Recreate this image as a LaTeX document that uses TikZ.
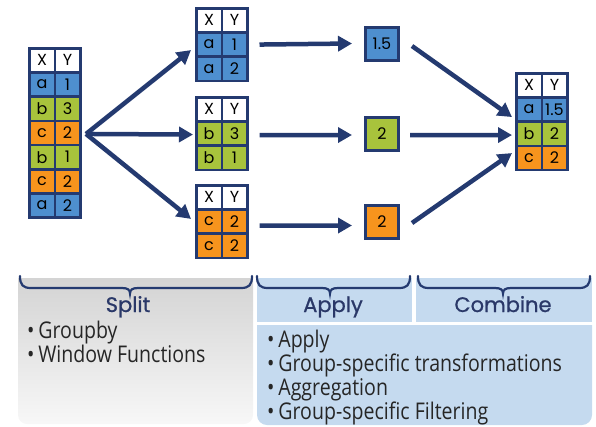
\documentclass[tikz,border=0pt]{standalone}
\usepackage{fontspec}
\setmainfont{Open Sans}[FakeStretch=0.85]
\newfontfamily\geo{Poppins}
\newfontfamily\geoh{Poppins}[FakeBold=0.8]
\usetikzlibrary{arrows.meta,calc}

\definecolor{navy}{HTML}{243A70}
\definecolor{hnavy}{HTML}{2A3868}
\definecolor{cblue}{HTML}{4E8FCF}
\definecolor{cgreen}{HTML}{A8C33C}
\definecolor{corange}{HTML}{F7941D}
\definecolor{pblue}{HTML}{C5DAEF}
\definecolor{txt}{HTML}{262626}

\tikzset{
  tblbox/.style={fill=navy, inner sep=0pt, outer sep=0pt, anchor=north west, minimum width=53.5pt},
  cell/.style={inner sep=0pt, outer sep=0pt, minimum width=23pt, minimum height=21.7pt,
    font=\geo\fontsize{16}{16}\selectfont, text=black},
  agg/.style={draw=navy, line width=3pt, minimum size=33pt, inner sep=0pt,
    font=\geo\fontsize{16}{16}\selectfont, text=black},
  arr/.style={draw=navy, line width=4.5pt, -{Triangle[length=14pt,width=15pt]}},
  brc/.style={draw=navy, line width=2.2pt, line cap=round},
  hdr/.style={font=\geoh\fontsize{21}{21}\selectfont, text=hnavy, inner sep=0pt, anchor=base},
  lst/.style={font=\fontsize{23}{24}\selectfont, text=txt, inner sep=0pt, anchor=base west},
}

% table: name, x, y (top-left), number of data rows, rows letter/value/colour
\newcommand\mktable[5]{%
  \node[tblbox, minimum height={(2.5+(#4+1)*24.2)*1pt}] (#1) at (#2,#3) {};
  \node[cell, fill=white] (#1-0-x) at ({#2+14},{#3+13.35}) {X};
  \node[cell, fill=white] (#1-0-y) at ({#2+39.5},{#3+13.35}) {Y};
  \foreach \l/\v/\c [count=\i] in {#5} {
    \node[cell, fill=\c] (#1-\i-x) at ({#2+14},{#3+13.35+\i*24.2}) {\l};
    \node[cell, fill=\c] (#1-\i-y) at ({#2+39.5},{#3+13.35+\i*24.2}) {\v};
  }%
}

% brace: x-left, x-tip, x-right
\newcommand\mkbrace[3]{%
  \draw[brc] (#1,276) .. controls (#1,285) and (#1+3,288) .. (#1+11,288)
    -- (#2-8,288) .. controls (#2-2,288) and (#2,290) .. (#2,293.5)
    .. controls (#2,290) and (#2+2,288) .. (#2+8,288)
    -- (#3-11,288) .. controls (#3-3,288) and (#3,285) .. (#3,276);%
}

\begin{document}
\begin{tikzpicture}[x=1pt, y=-1pt]
\useasboundingbox (0,0) rectangle (596,426);

% ---- tables ----
\mktable{T0}{28}{47}{6}{a/1/cblue, b/3/cgreen, c/2/corange, b/1/cgreen, c/2/corange, a/2/cblue}
\mktable{T1}{195}{7}{2}{a/1/cblue, a/2/cblue}
\mktable{T2}{195}{96}{2}{b/3/cgreen, b/1/cgreen}
\mktable{T3}{195}{184}{2}{c/2/corange, c/2/corange}
\mktable{R}{515}{72}{3}{a/1.5/cblue, b/2/cgreen, c/2/corange}

% ---- aggregated values ----
\node[agg, fill=cblue]   (B1) at (382,43.5)  {1.5};
\node[agg, fill=cgreen]  (B2) at (382,133.5) {2};
\node[agg, fill=corange] (B3) at (382,221.5) {2};

% ---- split arrows ----
\coordinate (s) at ($(T0.east)+(4.5,1)$);
\draw[arr] (s) -- ($(T1.west)+(-4,5.5)$);
\draw[arr] (s) -- ($(T2.west)+(-2,1)$);
\draw[arr] (s) -- ($(T3.west)+(-4,-2.6)$);

% ---- apply arrows ----
\draw[arr] ($(T1.east)+(11,0)$) -- ($(B1.west)+(-12,0)$);
\draw[arr] ($(T2.east)+(11,1.5)$) -- ($(B2.west)+(-12,1.5)$);
\draw[arr] ($(T3.east)+(11,4)$) -- ($(B3.west)+(-12,4)$);

% ---- combine arrows ----
\draw[arr] ($(B1.east)+(12,2.5)$) -- ($(R.west)+(-3,-4.6)$);
\draw[arr] ($(B2.east)+(10,1.5)$) -- ($(R.west)+(-3,13.4)$);
\draw[arr] ($(B3.east)+(12,1.5)$) -- ($(R.west)+(-3,31.4)$);

% ---- bottom panels ----
\shade[top color=black!17, bottom color=white!97!black]
  (18,278) -- (253,278) {[rounded corners=9] -- (253,424) -- (18,424)} -- cycle;
\fill[pblue] (257,278) rectangle (412,322);
\fill[pblue] (416,278) rectangle (592,322);
\fill[pblue] (257,325) -- (592,325) {[rounded corners=10] -- (592,425) -- (257,425)} -- cycle;

\mkbrace{20}{130}{252}
\mkbrace{257}{330}{410}
\mkbrace{418}{503}{590}

\node[hdr] (hsplit)   at (128,312) {Split};
\node[hdr] (happly)   at (333,312) {Apply};
\node[hdr] (hcombine) at (503,312) {Combine};

\node[lst] (s1) at (27,338) {•\,Groupby};
\node[lst] (s2) at (27,362) {•\,Window Functions};

\node[lst] (a1) at (267,347) {•\,Apply};
\node[lst] (a2) at (267,371) {•\,Group-specific transformations};
\node[lst] (a3) at (267,395) {•\,Aggregation};
\node[lst] (a4) at (267,419) {•\,Group-specific Filtering};
\end{tikzpicture}
\end{document}
